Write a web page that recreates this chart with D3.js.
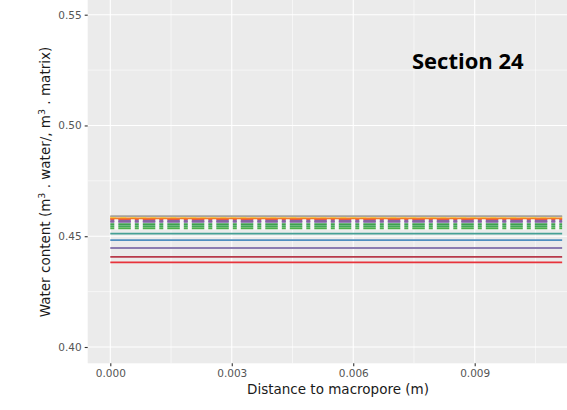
<!DOCTYPE html>
<html>
<head>
<meta charset="utf-8">
<script src="https://cdn.jsdelivr.net/npm/d3@7"></script>
<style>
  body { margin: 0; background: #fff; }
  svg { display: block; font-family: "DejaVu Sans", sans-serif; }
</style>
</head>
<body>
<script>
// distance to macropore (m), start and end of each profile
const distance = [0.0, 0.01116];

// water content of each curve, flat across the distance
const seriesName = ["s1", "s2", "s3", "s4", "s5", "s6", "s7", "s8", "s9", "s10", "s11", "s12", "s13", "s14"];
const seriesValue = [0.4382, 0.4407, 0.4447, 0.4482, 0.4512, 0.4536, 0.4546, 0.4555, 0.4565, 0.4570, 0.4577, 0.4581, 0.4587, 0.4591];
const seriesColor = ["#e8333b", "#b83a4b", "#8b7cb0", "#4f8fc0", "#45a095", "#4daf4a", "#41a85a", "#3f9e4f", "#7e5ea8", "#8a63a3", "#e2504e", "#f47d24", "#f6c92a", "#a7a29b"];
const seriesDash = ["solid", "solid", "solid", "solid", "solid", "twodash", "twodash", "twodash", "twodash", "twodash", "twodash", "solid", "dashed", "solid"];

const yTicks = [0.40, 0.45, 0.50, 0.55];
const yMinor = [0.425, 0.475, 0.525];
const xTicks = [0.000, 0.003, 0.006, 0.009];
const xMinor = [0.0015, 0.0045, 0.0075, 0.0105];

const W = 567, H = 410;
const panel = { left: 87.7, right: 585, top: -10, bottom: 363.3 };

const svg = d3.select("body").append("svg")
  .attr("width", W)
  .attr("height", H);

const x = d3.scaleLinear().domain([0, 0.009]).range([110.3, 474.7]);
const y = d3.scaleLinear().domain([0.40, 0.55]).range([347, 14.7]);

// panel background
svg.append("rect")
  .attr("x", panel.left).attr("y", panel.top)
  .attr("width", panel.right - panel.left)
  .attr("height", panel.bottom - panel.top)
  .attr("fill", "#ebebeb");

const grid = svg.append("g");
grid.selectAll(".ymin").data(yMinor).enter().append("line")
  .attr("x1", panel.left).attr("x2", panel.right)
  .attr("y1", d => y(d)).attr("y2", d => y(d))
  .attr("stroke", "#fff").attr("stroke-width", 0.55);
grid.selectAll(".xmin").data(xMinor).enter().append("line")
  .attr("y1", panel.top).attr("y2", panel.bottom)
  .attr("x1", d => x(d)).attr("x2", d => x(d))
  .attr("stroke", "#fff").attr("stroke-width", 0.55);
grid.selectAll(".ymaj").data(yTicks).enter().append("line")
  .attr("x1", panel.left).attr("x2", panel.right)
  .attr("y1", d => y(d)).attr("y2", d => y(d))
  .attr("stroke", "#fff").attr("stroke-width", 1.1);
grid.selectAll(".xmaj").data(xTicks).enter().append("line")
  .attr("y1", panel.top).attr("y2", panel.bottom)
  .attr("x1", d => x(d)).attr("x2", d => x(d))
  .attr("stroke", "#fff").attr("stroke-width", 1.1);

// curves
const series = seriesName.map((n, i) => ({
  name: n,
  color: seriesColor[i],
  dash: seriesDash[i],
  points: distance.map(dx => [dx, seriesValue[i]])
}));

const line = d3.line().x(d => x(d[0])).y(d => y(d[1]));
const dashes = { solid: null, twodash: "4,4,12.5,4", dashed: "6,4" };

// white underlay behind the dashed curves
svg.append("g").selectAll("path")
  .data(series.filter(s => s.dash === "twodash"))
  .enter().append("path")
  .attr("d", d => line(d.points))
  .attr("fill", "none")
  .attr("stroke", "#f7f7f7")
  .attr("stroke-width", 3);

svg.append("g").selectAll("path")
  .data(series)
  .enter().append("path")
  .attr("d", d => line(d.points))
  .attr("fill", "none")
  .attr("stroke", d => d.color)
  .attr("stroke-width", 1.8)
  .attr("stroke-dasharray", d => dashes[d.dash]);

// axes
const yAxis = svg.append("g").attr("transform", `translate(${panel.left},0)`)
  .call(d3.axisLeft(y).tickValues(yTicks).tickSize(3).tickPadding(3).tickFormat(d3.format(".2f")));
const xAxis = svg.append("g").attr("transform", `translate(0,${panel.bottom})`)
  .call(d3.axisBottom(x).tickValues(xTicks).tickSize(3).tickPadding(3).tickFormat(d3.format(".3f")));
[yAxis, xAxis].forEach(a => {
  a.select(".domain").remove();
  a.selectAll(".tick line").attr("stroke", "#333").attr("stroke-width", 1.1);
  a.selectAll(".tick text").attr("fill", "#555")
    .style("font-family", "DejaVu Sans").style("font-size", "10.5px");
});

// axis titles
svg.append("text")
  .attr("x", 338).attr("y", 394)
  .attr("text-anchor", "middle")
  .style("font-size", "13.5px").attr("fill", "#1a1a1a")
  .text("Distance to macropore (m)");

const yt = svg.append("text")
  .attr("transform", "translate(49.5,182) rotate(-90)")
  .attr("text-anchor", "middle")
  .style("font-size", "13.5px").attr("fill", "#1a1a1a");
yt.append("tspan").text("Water content (m");
yt.append("tspan").attr("dy", -5).style("font-size", "9.5px").text("3");
yt.append("tspan").attr("dy", 5).text(" . water/, m");
yt.append("tspan").attr("dy", -5).style("font-size", "9.5px").text("3");
yt.append("tspan").attr("dy", 5).text(" . matrix)");

// section label
svg.append("text")
  .attr("x", 412).attr("y", 69)
  .style("font-family", "'Open Sans', sans-serif")
  .style("font-weight", "bold").style("font-size", "22px")
  .attr("fill", "#000")
  .text("Section 24");
</script>
</body>
</html>
